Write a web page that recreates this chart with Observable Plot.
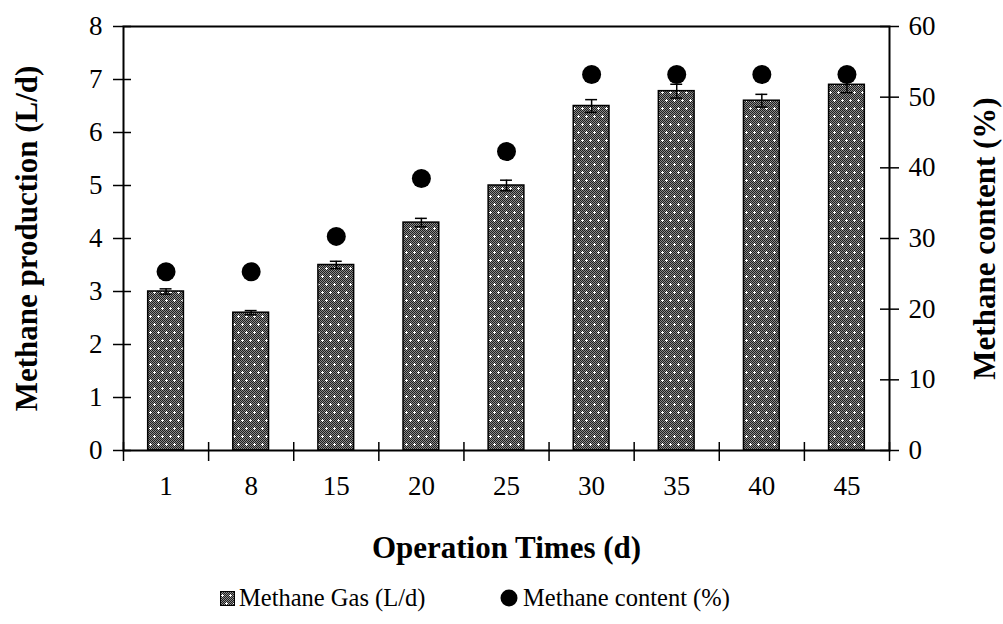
<!DOCTYPE html>
<html><head><meta charset="utf-8">
<script src="https://cdn.jsdelivr.net/npm/d3@7"></script>
<script src="https://cdn.jsdelivr.net/npm/@observablehq/plot@0.6"></script>
<style>
html,body{margin:0;padding:0;background:#fff;}
body{width:1003px;height:624px;position:relative;overflow:hidden;font-family:"Liberation Serif","Times New Roman",serif;color:#000;}
#chart{position:absolute;left:0;top:0;}
#chart svg g[aria-label$="tick label"]{font-size:27px;font-family:"Liberation Serif","Times New Roman",serif;}
#legend{position:absolute;left:0;top:575px;width:1003px;height:49px;font-size:24.5px;}
.item{position:absolute;top:9px;display:flex;align-items:center;height:28px;white-space:nowrap;}
.item svg{margin-right:4px;}
</style></head><body>
<svg width="0" height="0" style="position:absolute">
  <defs>
    <pattern id="gasPat" width="8" height="16" patternUnits="userSpaceOnUse">
      <rect width="8" height="16" fill="#8a8a8a"/>
      <g fill="#1e1e1e">
      <path d="M0,0h1v1h-1zM2,0h1v1h-1zM4,0h1v1h-1zM6,0h1v1h-1zM1,1h1v1h-1zM3,1h1v1h-1zM5,1h1v1h-1zM7,1h1v1h-1z" transform="translate(0,0)"/>
      <path d="M0,0h1v1h-1zM2,0h1v1h-1zM4,0h1v1h-1zM6,0h1v1h-1zM1,1h1v1h-1zM3,1h1v1h-1zM5,1h1v1h-1zM7,1h1v1h-1z" transform="translate(0,2)"/>
      <path d="M0,0h1v1h-1zM2,0h1v1h-1zM4,0h1v1h-1zM6,0h1v1h-1zM1,1h1v1h-1zM3,1h1v1h-1zM5,1h1v1h-1zM7,1h1v1h-1z" transform="translate(0,4)"/>
      <path d="M0,0h1v1h-1zM2,0h1v1h-1zM4,0h1v1h-1zM6,0h1v1h-1zM1,1h1v1h-1zM3,1h1v1h-1zM5,1h1v1h-1zM7,1h1v1h-1z" transform="translate(0,6)"/>
      <path d="M0,0h1v1h-1zM2,0h1v1h-1zM4,0h1v1h-1zM6,0h1v1h-1zM1,1h1v1h-1zM3,1h1v1h-1zM5,1h1v1h-1zM7,1h1v1h-1z" transform="translate(0,8)"/>
      <path d="M0,0h1v1h-1zM2,0h1v1h-1zM4,0h1v1h-1zM6,0h1v1h-1zM1,1h1v1h-1zM3,1h1v1h-1zM5,1h1v1h-1zM7,1h1v1h-1z" transform="translate(0,10)"/>
      <path d="M0,0h1v1h-1zM2,0h1v1h-1zM4,0h1v1h-1zM6,0h1v1h-1zM1,1h1v1h-1zM3,1h1v1h-1zM5,1h1v1h-1zM7,1h1v1h-1z" transform="translate(0,12)"/>
      <path d="M0,0h1v1h-1zM2,0h1v1h-1zM4,0h1v1h-1zM6,0h1v1h-1zM1,1h1v1h-1zM3,1h1v1h-1zM5,1h1v1h-1zM7,1h1v1h-1z" transform="translate(0,14)"/>
      </g>
      <path d="M2,3h1v3h-1zM1,4h3v1h-3z M6,11h1v3h-1zM5,12h3v1h-3z" fill="#ffffff"/>
    </pattern>
  </defs>
</svg>
<div id="chart"></div>
<div id="legend">
  <div class="item" style="left:220px;"><svg width="15" height="15"><rect x="0.5" y="0.5" width="14" height="14" fill="url(#gasPat)" stroke="#000" stroke-width="1"/></svg><span>Methane Gas (L/d)</span></div>
  <div class="item" style="left:499px;"><svg width="20" height="20"><circle cx="10" cy="10" r="8.5" fill="#000"/></svg><span>Methane content (%)</span></div>
</div>
<script>
// Data
const days = ["1", "8", "15", "20", "25", "30", "35", "40", "45"];
const gasProduction = [3.0, 2.6, 3.5, 4.3, 5.0, 6.5, 6.78, 6.6, 6.9];      // L/d
const gasError = [0.05, 0.04, 0.07, 0.08, 0.10, 0.12, 0.13, 0.12, 0.15];  // L/d
const methaneContent = [25.3, 25.3, 30.3, 38.5, 42.3, 53.2, 53.2, 53.2, 53.2]; // %
const leftTicks = [0, 1, 2, 3, 4, 5, 6, 7, 8];
const rightTicks = [0, 10, 20, 30, 40, 50, 60];
const leftMax = 8, rightMax = 60;
const ratio = leftMax / rightMax; // % -> L/d scale

const rows = days.map((d, i) => ({
  i, day: d, gas: gasProduction[i], err: gasError[i], pct: methaneContent[i]
}));

const barHalf = 0.21, capHalf = 0.07;
const tickFont = 27, titleFont = 31;

const chart = Plot.plot({
  width: 1003,
  height: 575,
  marginLeft: 123,
  marginRight: 114,
  marginTop: 26,
  marginBottom: 125,
  style: {fontFamily: "'Liberation Serif','Times New Roman',serif", fontSize: "27px", color: "#000", background: "#fff"},
  x: {type: "linear", domain: [0, days.length], axis: null},
  y: {domain: [0, leftMax], axis: null},
  marks: [
    Plot.rectY(rows, {x1: d => d.i + 0.5 - barHalf, x2: d => d.i + 0.5 + barHalf, y1: 0, y2: "gas",
      fill: "url(#gasPat)", stroke: "#000", strokeWidth: 1.5}),
    Plot.ruleX(rows, {x: d => d.i + 0.5, y1: d => d.gas - d.err, y2: d => d.gas + d.err, stroke: "#000", strokeWidth: 1.5}),
    Plot.ruleY(rows, {y: d => d.gas - d.err, x1: d => d.i + 0.5 - capHalf, x2: d => d.i + 0.5 + capHalf, stroke: "#000", strokeWidth: 1.5}),
    Plot.ruleY(rows, {y: d => d.gas + d.err, x1: d => d.i + 0.5 - capHalf, x2: d => d.i + 0.5 + capHalf, stroke: "#000", strokeWidth: 1.5}),
    Plot.dot(rows, {x: d => d.i + 0.5, y: d => d.pct * ratio, r: 9.5, fill: "#000"}),
    Plot.frame({stroke: "#000", strokeWidth: 2}),
    // left axis
    Plot.axisY({anchor: "left", ticks: leftTicks, tickSize: 18, dx: 8, fill: "none", label: null, strokeWidth: 1.5}),
    Plot.axisY({anchor: "left", ticks: leftTicks, tickSize: 0, tickPadding: 21, fontSize: tickFont, label: null, tickFormat: d => String(d)}),
    // right axis
    Plot.axisY({anchor: "right", ticks: rightTicks.map(p => p * ratio), tickSize: 19, dx: -10, fill: "none", label: null, strokeWidth: 1.5}),
    Plot.axisY({anchor: "right", ticks: rightTicks.map(p => p * ratio), tickSize: 0, tickPadding: 19, fontSize: tickFont, label: null, tickFormat: v => String(Math.round(v / ratio))}),
    // bottom axis
    Plot.axisX({anchor: "bottom", ticks: d3.range(days.length + 1), tickSize: 19, dy: -8, fill: "none", label: null, strokeWidth: 1.5}),
    Plot.axisX({anchor: "bottom", ticks: days.map((d, i) => i + 0.5), tickSize: 0, tickPadding: 25, fontSize: tickFont, label: null, tickFormat: v => days[Math.floor(v)]}),
    // titles
    Plot.text(["Methane production (L/d)"], {frameAnchor: "left", dx: -96, rotate: -90, textAnchor: "middle", lineAnchor: "middle", fontWeight: "bold", fontSize: titleFont}),
    Plot.text(["Methane content (%)"], {frameAnchor: "right", dx: 96, rotate: -90, textAnchor: "middle", lineAnchor: "middle", fontWeight: "bold", fontSize: titleFont}),
    Plot.text(["Operation Times (d)"], {frameAnchor: "bottom", dy: 98, textAnchor: "middle", lineAnchor: "middle", fontWeight: "bold", fontSize: titleFont})
  ]
});
document.getElementById("chart").appendChild(chart);
</script>
</body></html>
